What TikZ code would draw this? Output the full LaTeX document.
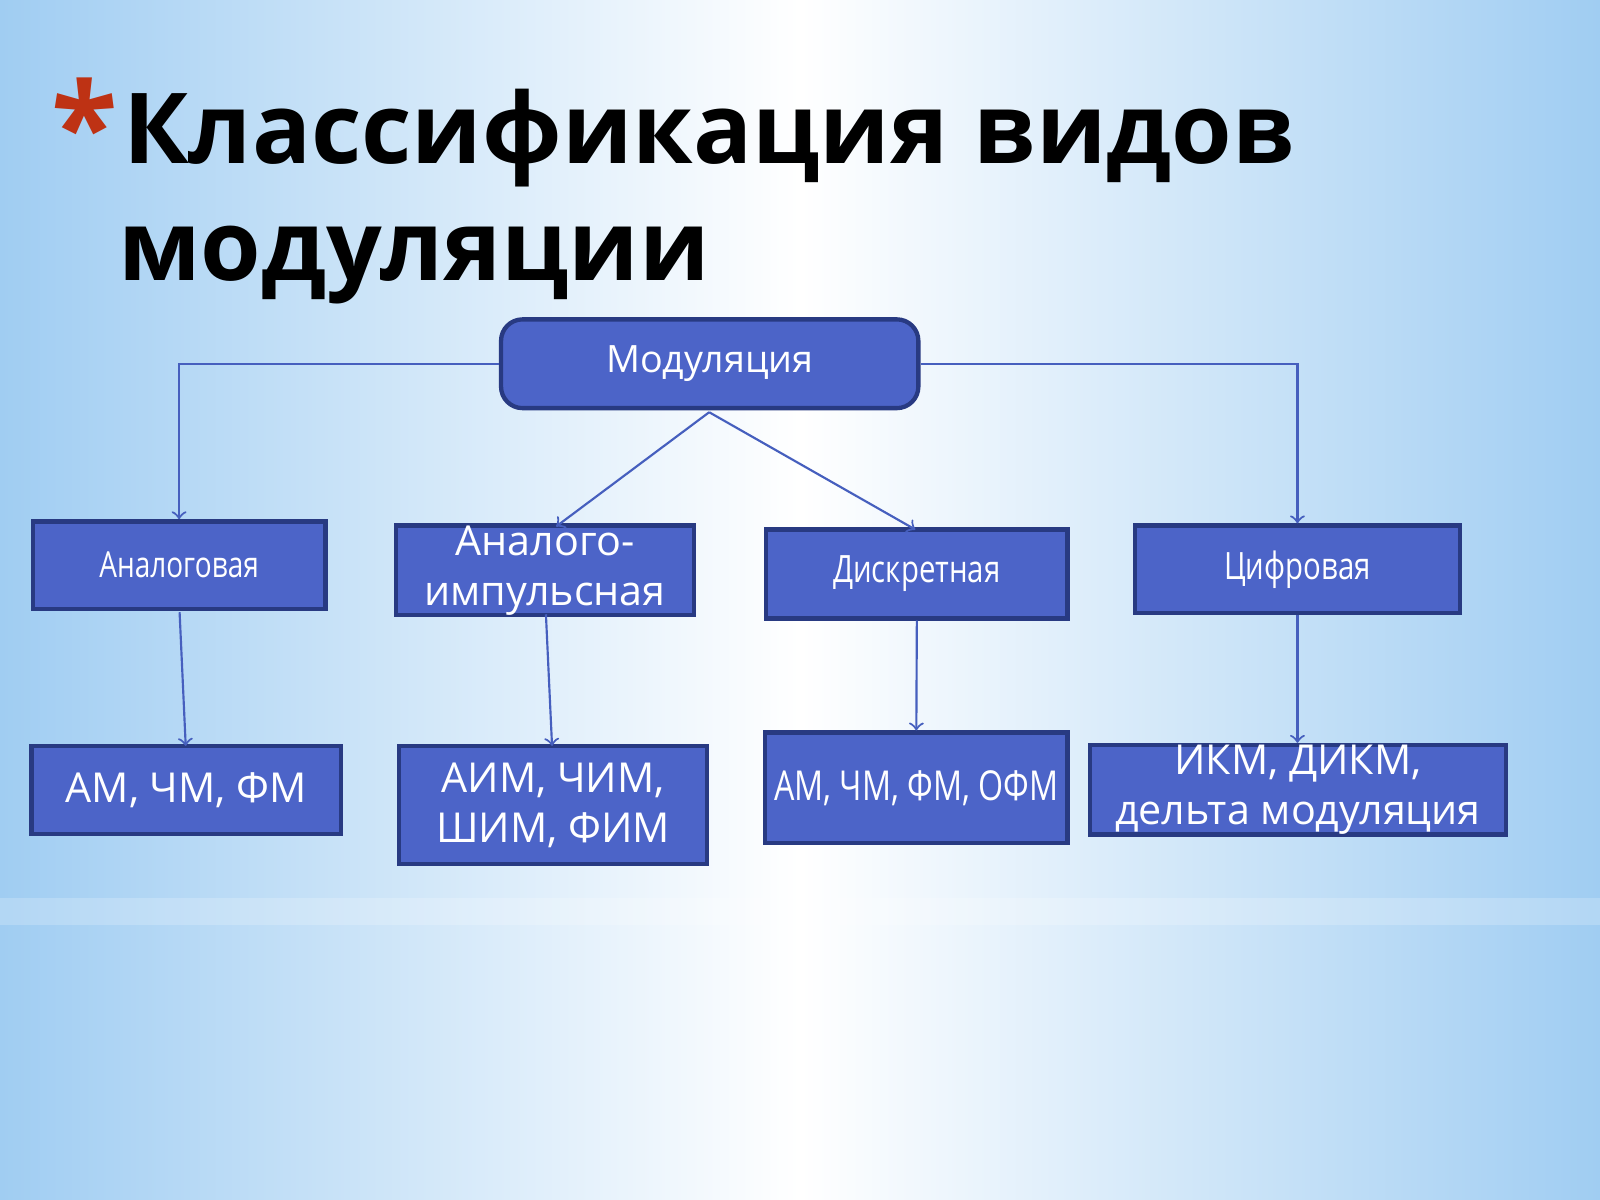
\documentclass[tikz,border=0pt]{standalone}
\usepackage{fontspec}
\setmainfont{Open Sans}
\newfontfamily\narrowfont[FakeStretch=0.78]{Open Sans}
\usetikzlibrary{arrows}
\definecolor{boxblue}{RGB}{76,100,200}
\definecolor{boxedge}{RGB}{40,58,130}
\definecolor{linkblue}{RGB}{70,95,190}
\definecolor{skyblue}{RGB}{160,205,242}
\definecolor{starred}{RGB}{190,50,20}
\tikzset{
block/.style = {draw=boxedge, line width=1.2pt, fill=boxblue, text=white, inner sep=0pt, align=center},
link/.style = {draw=linkblue, line width=0.6pt, ->, >=to}
}
\begin{document}
\begin{tikzpicture}[x=1cm,y=1cm]
    % background
    \useasboundingbox (0,0) rectangle (15.68,11.76);
    \shade[left color=skyblue, right color=skyblue, middle color=white] (0,0) rectangle (15.68,11.76);
    \shade[top color=white, bottom color=white, middle color=white, opacity=0.2] (0,2.7) rectangle (15.68,2.95);

    % title
    \node[anchor=north east, text=starred, font=\fontsize{34}{34}\selectfont\bfseries, inner sep=0pt] (star) at (1.16,11.0) {*};
    \node[anchor=base west, font=\fontsize{27.3}{34}\selectfont\bfseries, inner sep=0pt] (title1) at (1.2,10.16) {Классификация видов};
    \node[anchor=base west, font=\fontsize{27.3}{34}\selectfont\bfseries, inner sep=0pt] (title2) at (1.15,9.01) {модуляции};

    % blocks
    \node[block, rounded corners=6pt, minimum width=4.09cm, minimum height=0.87cm, font=\fontsize{10.5}{12}\selectfont] (mod) at (6.955,8.195) {Модуляция};
    \node[block, minimum width=2.87cm, minimum height=0.86cm, font=\narrowfont\fontsize{10}{12}\selectfont] (analog) at (1.755,6.22) {Аналоговая};
    \node[block, minimum width=2.92cm, minimum height=0.86cm, font=\fontsize{11.5}{14}\selectfont] (aimp) at (5.34,6.17) {Аналого-\\импульсная};
    \node[block, minimum width=2.95cm, minimum height=0.87cm, font=\narrowfont\fontsize{10.5}{12}\selectfont] (discr) at (8.985,6.135) {Дискретная};
    \node[block, minimum width=3.19cm, minimum height=0.86cm, font=\narrowfont\fontsize{10.5}{12}\selectfont] (digit) at (12.715,6.18) {Цифровая};
    \node[block, minimum width=3.03cm, minimum height=0.86cm, font=\fontsize{11.5}{14}\selectfont] (am) at (1.825,4.02) {АМ, ЧМ, ФМ};
    \node[block, minimum width=3.02cm, minimum height=1.16cm, font=\fontsize{11.5}{14}\selectfont] (aim) at (5.42,3.87) {АИМ, ЧИМ,\\ШИМ, ФИМ};
    \node[block, minimum width=2.96cm, minimum height=1.08cm, font=\narrowfont\fontsize{11.5}{14}\selectfont] (ofm) at (8.98,4.04) {АМ, ЧМ, ФМ, ОФМ};
    \node[block, minimum width=4.08cm, minimum height=0.86cm, font=\fontsize{11.5}{14}\selectfont] (ikm) at (12.72,4.02) {ИКМ, ДИКМ,\\дельта модуляция};

    % connectors
    \coordinate (apex) at (6.95,7.72);
    \draw[link] (mod.west) -| (analog.north);
    \draw[link] (mod.east) -| (digit.north);
    \draw[link] (apex) -- (5.45,6.60);
    \draw[link] (apex) -- (8.97,6.57);
    \draw[link] (1.76,5.76) -- (1.82,4.45);
    \draw[link] (5.35,5.74) -- (5.41,4.45);
    \draw[link] (discr.south) -- (ofm.north);
    \draw[link] (digit.south) -- (ikm.north -| digit.south);
\end{tikzpicture}
\end{document}
